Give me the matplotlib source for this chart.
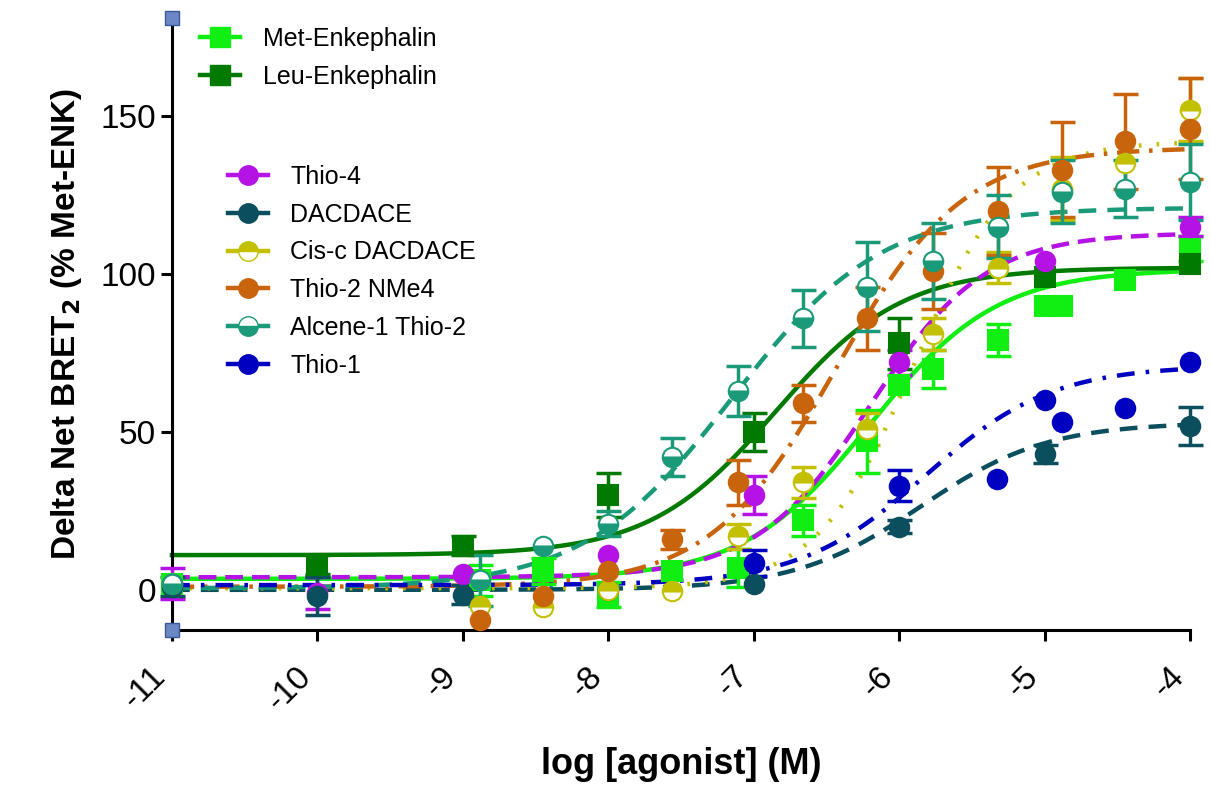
import numpy as np
import matplotlib
matplotlib.use("Agg")
import matplotlib.pyplot as plt
from matplotlib.lines import Line2D

plt.rcParams['font.family'] = ['Liberation Sans', 'DejaVu Sans']
plt.rcParams['axes.unicode_minus'] = False

# ---- data ----
grid3 = [-8.88, -8.45, -8.0, -7.56, -7.11, -6.66, -6.22, -5.77, -5.32, -4.88, -4.45, -4.0]

met_x = [-11, -8.88, -8.45, -8.0, -7.56, -7.11, -6.66, -6.22, -6.0, -5.77, -5.32, -5.0, -4.88, -4.45, -4.0]
met_y = [2, 3, 6, -1.5, 6, 7, 22, 47, 65, 70, 79, 90, 90, 98, 108]
met_err = [0, 5, 4, 4, 0, 6, 5, 10, 0, 6, 5, 0, 0, 0, 4]

leu_x = [-10, -9, -8, -7, -6, -5, -4]
leu_y = [8, 14, 30, 50, 78, 99, 103]
leu_err = [3, 3, 7, 6, 8, 0, 0]

thio4_x = [-11, -10, -9, -8, -7, -6, -5, -4]
thio4_y = [2, -1, 5, 11, 30, 72, 104, 115]
thio4_err = [5, 5, 0, 0, 6, 4, 0, 3]

dacd_x = [-11, -10, -9, -8, -7, -6, -5, -4]
dacd_y = [1, -2, -1.5, 0, 2, 20, 43, 52]
dacd_err = [3, 6, 3, 0, 0, 2, 3, 6]

cisc_x = grid3
cisc_y = [-5, -5.5, 0, -0.5, 17, 34, 51, 81, 102, 127, 135, 152]
cisc_err = [0, 0, 0, 0, 4, 5, 5, 5, 5, 10, 0, 10]

nme4_x = grid3
nme4_y = [-9.5, -2, 6, 16, 34, 59, 86, 101, 120, 133, 142, 146]
nme4_err = [0, 0, 0, 3, 7, 6, 10, 12, 14, 15, 15, 16]

alc_x = [-11] + grid3
alc_y = [2, 3, 14, 21, 42, 63, 86, 96, 104, 115, 126, 127, 129]
alc_err = [0, 8, 0, 4, 6, 8, 9, 14, 12, 10, 10, 9, 12]

thio1_x = [-7, -6, -5.33, -5, -4.88, -4.45, -4]
thio1_y = [8.5, 33, 35, 60, 53, 57.5, 72]
thio1_err = [4, 5, 0, 0, 0, 0, 0]

# fitted curve parameters: bottom, top, logEC50, hill
met_fit = [3.5, 101.5, -6.2, 1.0]
leu_fit = [11, 102, -6.85, 1.0]
thio4_fit = [4, 113, -6.2, 1.1]
dacd_fit = [0, 53, -5.85, 1.0]
cisc_fit = [0.5, 142, -5.9, 1.3]
nme4_fit = [1, 140, -6.43, 1.0]
alc_fit = [0.5, 121, -7.15, 0.85]
thio1_fit = [1.5, 71, -5.82, 1.0]

series = [
    # label, x, y, err, fit, colour, marker, fillstyle, linestyle
    ("Met-Enkephalin", met_x, met_y, met_err, met_fit, '#11ee11', 's', 'full', '-'),
    ("Leu-Enkephalin", leu_x, leu_y, leu_err, leu_fit, '#007a00', 's', 'full', '-'),
    ("Thio-4", thio4_x, thio4_y, thio4_err, thio4_fit, '#b512e6', 'o', 'full', (0, (4, 2))),
    ("DACDACE", dacd_x, dacd_y, dacd_err, dacd_fit, '#0b4f5e', 'o', 'full', (0, (4, 2.5))),
    ("Cis-c DACDACE", cisc_x, cisc_y, cisc_err, cisc_fit, '#c2c000', 'o', 'top', (0, (0.6, 3.4))),
    ("Thio-2 NMe4", nme4_x, nme4_y, nme4_err, nme4_fit, '#c8650c', 'o', 'full', (0, (5, 2.2, 0.8, 2.2))),
    ("Alcene-1 Thio-2", alc_x, alc_y, alc_err, alc_fit, '#1a9a78', 'o', 'bottom', (0, (4, 2.5))),
    ("Thio-1", thio1_x, thio1_y, thio1_err, thio1_fit, '#0000c0', 'o', 'full', (0, (4, 2.5, 0.8, 2.5))),
]

fig = plt.figure(figsize=(12.11, 8.01), dpi=100)
ax = fig.add_axes([0.142, 0.2135, 0.841, 0.764])

xs = np.linspace(-11, -4, 400)
handles = []
for label, x, y, err, fit, col, mk, fs, ls in series:
    bottom, top, ec, hill = fit
    curve = bottom + (top - bottom) / (1 + 10 ** ((ec - xs) * hill))
    ax.plot(xs, curve, color=col, lw=3.2, ls=ls, clip_on=False, zorder=2)
    x = np.array(x)
    y = np.array(y)
    err = np.array(err)
    m = err > 0
    ax.errorbar(x[m], y[m], yerr=err[m], fmt='none', ecolor=col, elinewidth=2.5,
                capsize=9, capthick=2.5, clip_on=False, zorder=3)
    ax.plot(x, y, ls='none', marker=mk, ms=14, color=col, mec=col, mew=1.5,
            fillstyle=fs, markerfacecoloralt='white', clip_on=False, zorder=4)
    handles.append(Line2D([], [], color=col, lw=3.2, marker=mk, ms=14, mec=col,
                          fillstyle=fs, markerfacecoloralt='white', label=label))

ax.set_xlim(-11, -4)
ax.set_ylim(-12.7, 181)
ax.set_xticks(range(-11, -3))
ax.set_yticks([0, 50, 100, 150])
ax.spines['top'].set_visible(False)
ax.spines['right'].set_visible(False)
ax.spines['left'].set_linewidth(2.2)
ax.spines['bottom'].set_linewidth(2.2)
ax.tick_params(axis='both', direction='out', width=2.2, length=8, labelsize=24)
ax.tick_params(axis='x', pad=14)
for t in ax.get_xticklabels():
    t.set_rotation(45)
    t.set_ha('right')
    t.set_va('top')

# end markers on the y axis
ax.plot([0, 0], [0, 1], ls='none', marker='s', ms=10, color='#6b87c4', mec='#3b5a9a',
        transform=ax.transAxes, clip_on=False, zorder=6)

ax.set_xlabel("log [agonist] (M)", fontsize=26, fontweight='bold', labelpad=22)
ax.set_ylabel("Delta Net BRET$_\\mathbf{2}$ (% Met-ENK)", fontsize=24, fontweight='bold', labelpad=12)

leg1 = ax.legend(handles=handles[:2], loc='upper left', bbox_to_anchor=(0.028, 0.985),
                 frameon=False, fontsize=18, handlelength=1.6, handletextpad=0.9,
                 labelspacing=0.55, borderaxespad=0, borderpad=0)
ax.add_artist(leg1)
ax.legend(handles=handles[2:], loc='upper left', bbox_to_anchor=(0.055, 0.76),
          frameon=False, fontsize=18, handlelength=1.6, handletextpad=0.9,
          labelspacing=0.55, borderaxespad=0, borderpad=0)

fig.savefig("out.png", dpi=100)
